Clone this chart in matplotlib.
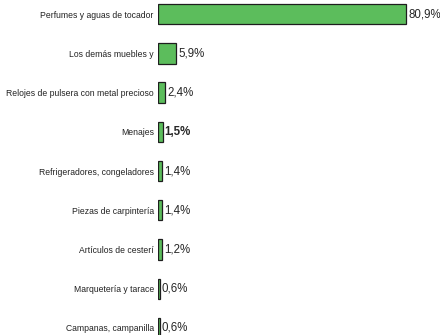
import matplotlib.pyplot as plt

categorias = [
    "Perfumes y aguas de tocador",
    "Los demás muebles y",
    "Relojes de pulsera con metal precioso",
    "Menajes",
    "Refrigeradores, congeladores",
    "Piezas de carpintería",
    "Artículos de cesterí",
    "Marquetería y tarace",
    "Campanas, campanilla",
]
valores = [80.9, 5.9, 2.4, 1.5, 1.4, 1.4, 1.2, 0.6, 0.6]
etiquetas = ["80,9%", "5,9%", "2,4%", "1,5%", "1,4%", "1,4%", "1,2%", "0,6%", "0,6%"]

plt.rcParams['font.family'] = ['Liberation Sans', 'DejaVu Sans']

fig = plt.figure(figsize=(4.4, 3.35), dpi=100)
ax = fig.add_axes([158 / 440, 0, (430 - 158) / 440, 1])

pos = list(range(len(categorias)))
ax.barh(pos, valores, height=0.52, color='#5cbd5c', edgecolor='#1e1e1e', linewidth=0.9)

for i, (v, t) in enumerate(zip(valores, etiquetas)):
    peso = 'bold' if categorias[i] == "Menajes" else 'normal'
    ax.annotate(t, (v, i), xytext=(1.5, 0), textcoords='offset points',
                va='center', ha='left', fontsize=8.3, color='#262626', fontweight=peso)

ax.set_yticks(pos)
ax.set_yticklabels(categorias, fontsize=6.2, color='#222222')
ax.tick_params(axis='y', length=0, pad=3)
ax.set_xticks([])
ax.set_xlim(0, 88.6)
ax.set_ylim(8.18, -0.36)
for s in ax.spines.values():
    s.set_visible(False)

fig.savefig('out.png', dpi=100)
